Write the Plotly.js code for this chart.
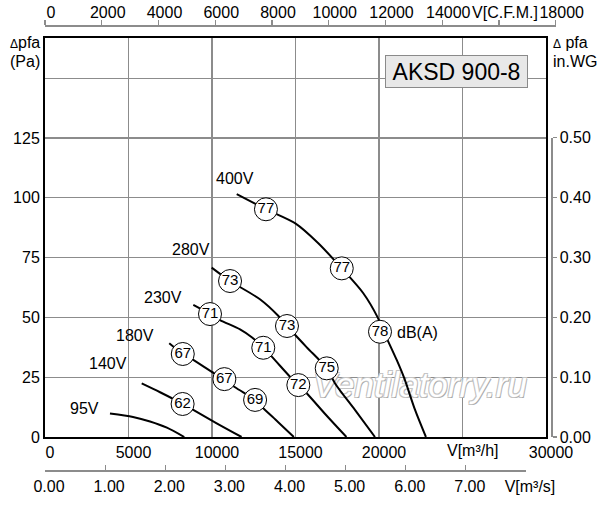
<!DOCTYPE html>
<html>
<head>
<meta charset="utf-8">
<script src="https://cdn.plot.ly/plotly-3.0.1.min.js"></script>
<style>html,body{margin:0;padding:0;background:#fff}</style>
</head>
<body>
<div id="chart" style="width:600px;height:505px"></div>
<script>
// fan curves AKSD 900-8, V [m3/h] -> dpfa [Pa], one pair per voltage
const v400_x = [11480, 13230, 14990, 16350, 17770, 19060, 19920, 20240, 21060, 21500, 22160, 22810];
const v400_y = [101.5, 95.2, 89.3, 81.1, 70.5, 60.1, 50.0, 44.7, 32.2, 24.8, 11.3, 0];
const v280_x = [9980, 11080, 12870, 13950, 14490, 15660, 16870, 17370, 18560, 19760];
const v280_y = [70.8, 65.2, 57.6, 50.8, 46.4, 37.6, 28.7, 22.4, 11.3, 0];
const v230_x = [8880, 9880, 10480, 11680, 12380, 13070, 13580, 14670, 15170, 15670, 16830, 18050];
const v230_y = [55.2, 51.4, 48.9, 45.0, 41.7, 37.3, 33.6, 25.2, 21.7, 18.3, 9.2, 0];
const v180_x = [7440, 8250, 8880, 10140, 10740, 11380, 12580, 13070, 13950, 14900];
const v180_y = [39.2, 34.7, 32.2, 26.6, 24.2, 20.8, 15.5, 12.0, 6.3, 0];
const v140_x = [5790, 6890, 8250, 8880, 10280, 11770];
const v140_y = [22.4, 18.7, 13.8, 11.3, 5.7, 0];
const v95_x = [3890, 5270, 6290, 7300, 8340];
const v95_y = [9.8, 8.4, 6.5, 3.9, 0];

const curves = [
  [v400_x, v400_y], [v280_x, v280_y], [v230_x, v230_y],
  [v180_x, v180_y], [v140_x, v140_y], [v95_x, v95_y]
];

// sound level marks dB(A)
const db_x = [13230, 17770, 20060, 11080, 14490, 16870, 9880, 13070, 15170, 8250, 10740, 12580, 8240];
const db_y = [95.2, 70.5, 44.0, 65.2, 46.4, 28.7, 51.4, 37.3, 21.7, 34.7, 24.2, 15.5, 13.8];
const db_val = ['77', '77', '78', '73', '73', '75', '71', '71', '72', '67', '67', '69', '62'];

const voltLabels = ['400V', '280V', '230V', '180V', '140V', '95V'];

// axes ticks
const m3hTicks = [0, 5000, 10000, 15000, 20000, 25000, 30000];
const m3hText = ['0', '5000', '10000', '15000', '20000', '', '30000'];
const cfmTicks = [0, 2000, 4000, 6000, 8000, 10000, 12000, 14000, 16000, 18000];
const cfmText = ['0', '2000', '4000', '6000', '8000', '10000', '12000', '14000', 'V[C.F.M.]', '18000'];
const m3sTicks = [0, 1, 2, 3, 4, 5, 6, 7, 8];
const m3sText = ['0.00', '1.00', '2.00', '3.00', '4.00', '5.00', '6.00', '7.00', 'V[m³/s]'];
const paTicks = [0, 25, 50, 75, 100, 125, 150];
const paText = ['0', '25', '50', '75', '100', '125', ''];
const wgTicks = [0, 0.1, 0.2, 0.3, 0.4, 0.5];
const wgText = ['0.00', '0.10', '0.20', '0.30', '0.40', '0.50'];

const FONT = 'Liberation Sans, Arial, Helvetica, sans-serif';
const CFM = 1.69901; // m3/h per cfm
const xDom = 501 / 511;

let traces = [];
// watermark, under the curves
traces.push({
  x: [22450], y: [20.3], mode: 'text', text: ['Ventilatorry.ru'],
  textposition: 'middle center', hoverinfo: 'skip', showlegend: false,
  textfont: {family: FONT, size: 35, style: 'italic', color: '#ffffff',
    shadow: '-1px -1px 0 #c4c4c4, 1px -1px 0 #c4c4c4, -1px 1px 0 #c4c4c4, 1px 1px 0 #aaaaaa'}
});
curves.forEach(c => {
  traces.push({
    x: c[0], y: c[1], mode: 'lines', hoverinfo: 'skip', showlegend: false,
    line: {color: '#000', width: 2, shape: 'spline', smoothing: 0.8}
  });
});
traces.push({
  x: db_x, y: db_y, text: db_val, mode: 'markers+text', textposition: 'middle center',
  hoverinfo: 'skip', showlegend: false,
  marker: {size: 23, color: '#fff', line: {color: '#000', width: 1}},
  textfont: {family: FONT, size: 15, color: '#000'}
});
// carriers for the secondary scales
traces.push({x: [0], y: [0], xaxis: 'x2', yaxis: 'y2', mode: 'markers', marker: {opacity: 0}, hoverinfo: 'skip', showlegend: false});
traces.push({x: [0], y: [0], xaxis: 'x3', yaxis: 'y2', mode: 'markers', marker: {opacity: 0}, hoverinfo: 'skip', showlegend: false});

const tf = {family: FONT, size: 16, color: '#000'};
const grey = '#8c8c8c';

// paper annotation helper, centred unless told otherwise
const note = (text, x, y, xa, extra) => Object.assign({
  text: text, x: x, y: y, xref: 'paper', yref: 'paper',
  xanchor: xa || 'center', yanchor: 'middle', showarrow: false, font: tf
}, extra || {});

// label positions [x m3/h, y Pa]
const voltPos = [[11380, 107.9], [8760, 78.5], [7070, 58.5], [5410, 42.6], [3760, 30.8], [2380, 12.0]];
let annotations = voltLabels.map((t, i) => ({
  text: t, x: voltPos[i][0], y: voltPos[i][1], xref: 'x', yref: 'y',
  xanchor: 'center', yanchor: 'middle', showarrow: false, font: tf
}));
annotations.push(
  {text: 'dB(A)', x: 20960, y: 43.5, xref: 'x', yref: 'y', xanchor: 'left', yanchor: 'middle', showarrow: false, font: tf},
  note('AKSD 900-8', 0.8053, 0.8955, 'center', {
    font: {family: FONT, size: 23, color: '#000'}, bgcolor: '#e8e8e8', bordercolor: '#8a8a8a',
    borderwidth: 1, borderpad: 3, width: 135, height: 25}),
  note('<span style="font-size:12px">Δ</span>pfa', -0.006, 0.9604, 'right'),
  note('(Pa)', -0.006, 0.9175, 'right'),
  note('<span style="font-size:12px">Δ</span> pfa', 0.990, 0.9604, 'left'),
  note('in.WG', 0.990, 0.9175, 'left'),
  note('V[m³/h]', 0.8376, 0.0427)
);

const layout = {
  width: 600, height: 505,
  margin: {l: 45, r: 44, t: 25, b: 35, pad: 0},
  paper_bgcolor: '#fff', plot_bgcolor: 'rgba(0,0,0,0)',
  font: {family: FONT, color: '#000'},
  showlegend: false, hovermode: false,
  xaxis: {
    domain: [0, xDom], range: [0, 30000], anchor: 'y',
    tickvals: m3hTicks, ticktext: m3hText, ticks: '', tickfont: tf, tickangle: 0,
    ticklabelshift: 5,
    showgrid: true, gridcolor: grey, gridwidth: 1.2, zeroline: false,
    showline: true, linecolor: '#000', linewidth: 2, mirror: true
  },
  yaxis: {
    domain: [33 / 445, 432 / 445], range: [0, 166.8], anchor: 'x',
    tickvals: paTicks, ticktext: paText, ticks: '', tickfont: tf,
    showgrid: true, gridcolor: grey, gridwidth: 1.2, zeroline: false,
    showline: true, linecolor: '#000', linewidth: 2, mirror: true
  },
  xaxis2: {
    domain: [0, xDom * 18000 * CFM / 30000], range: [0, 18000], anchor: 'free', position: 1, side: 'top',
    tickvals: cfmTicks, ticktext: cfmText, ticks: 'outside', ticklen: 5, tickcolor: grey, tickwidth: 1.2,
    tickfont: tf, tickangle: 0, ticklabelshift: 6, ticklabelstandoff: -4, showgrid: false, zeroline: false,
    showline: true, linecolor: grey, linewidth: 1.5
  },
  xaxis3: {
    domain: [0, xDom * 8 * 3600 / 30000], range: [0, 8], anchor: 'free', position: 0, side: 'bottom',
    tickvals: m3sTicks, ticktext: m3sText, ticks: 'inside', ticklen: 5, tickcolor: grey, tickwidth: 1.2,
    tickfont: tf, tickangle: 0, ticklabelshift: 4, ticklabelstandoff: 1, showgrid: false, zeroline: false,
    showline: true, linecolor: grey, linewidth: 1.5
  },
  yaxis2: {
    domain: [33 / 445, 332.5 / 445], range: [0, 0.5], anchor: 'free', position: 506 / 511, side: 'right',
    tickvals: wgTicks, ticktext: wgText, ticks: 'outside', ticklen: 4, tickcolor: grey, tickwidth: 1.2,
    tickfont: tf, showgrid: false, zeroline: false,
    showline: true, linecolor: grey, linewidth: 1.5
  },
  annotations: annotations
};

Plotly.newPlot('chart', traces, layout, {staticPlot: true, displayModeBar: false});
</script>
</body>
</html>
